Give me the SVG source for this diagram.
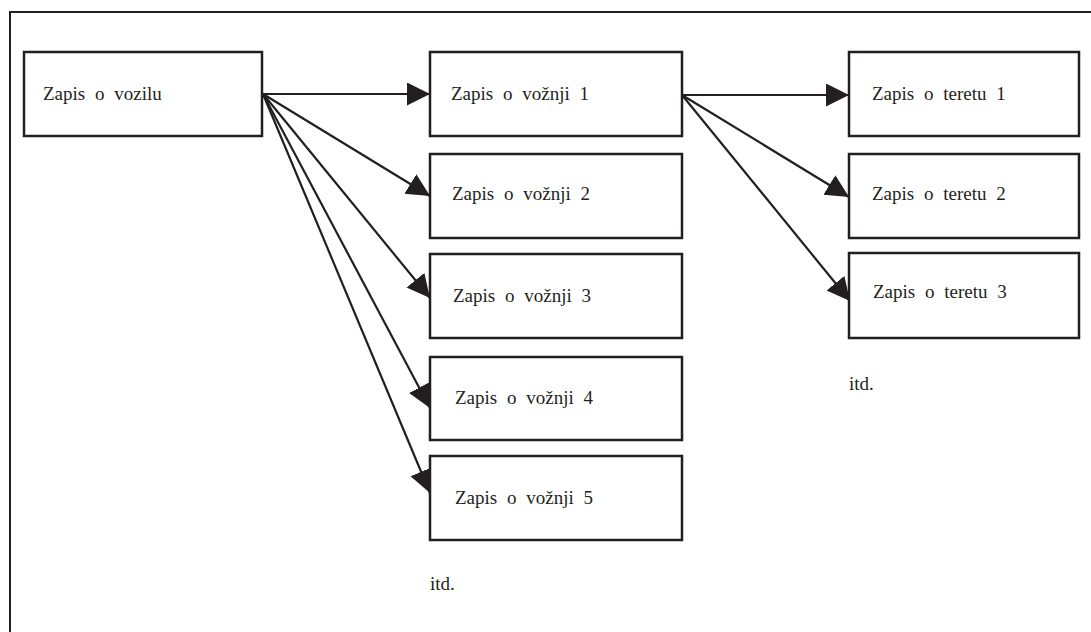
<svg xmlns="http://www.w3.org/2000/svg" width="1091" height="632" viewBox="0 0 1091 632">
<style>
.box{fill:#fff;stroke:#231f20;stroke-width:2.5}
.lbl{font-family:"Liberation Serif",serif;font-size:19px;word-spacing:5px;fill:#231f20}
.conn{stroke:#231f20;stroke-width:2.2;fill:none;marker-end:url(#ah)}
.frame{stroke:#231f20;stroke-width:2;fill:none}
</style>
<defs>
<marker id="ah" markerUnits="userSpaceOnUse" markerWidth="26" markerHeight="26" refX="23" refY="11.5" orient="auto">
<path d="M0,0 L23,11.5 L0,23 z" fill="#231f20"/>
</marker>
</defs>
<rect x="0" y="0" width="1091" height="632" fill="#fff"/>
<path class="frame" d="M10,632 V12 H1091"/>
<g id="connectors">
<line class="conn" x1="263" y1="94" x2="430" y2="94"/>
<line class="conn" x1="263" y1="94" x2="430" y2="196"/>
<line class="conn" x1="263" y1="94" x2="430" y2="298"/>
<line class="conn" x1="263" y1="94" x2="430" y2="408"/>
<line class="conn" x1="263" y1="94" x2="430" y2="493"/>
<line class="conn" x1="682" y1="95" x2="849" y2="95"/>
<line class="conn" x1="682" y1="95" x2="849" y2="197"/>
<line class="conn" x1="682" y1="95" x2="850" y2="301"/>
</g>
<g id="vozilo"><rect class="box" x="24" y="52" width="238" height="84"/><text class="lbl" x="43" y="100">Zapis o vozilu</text></g>
<g id="voznja1"><rect class="box" x="430" y="52" width="252" height="84"/><text class="lbl" x="451" y="100">Zapis o vožnji 1</text></g>
<g id="voznja2"><rect class="box" x="430" y="154" width="252" height="84"/><text class="lbl" x="452" y="200">Zapis o vožnji 2</text></g>
<g id="voznja3"><rect class="box" x="430" y="254" width="252" height="84"/><text class="lbl" x="453" y="302">Zapis o vožnji 3</text></g>
<g id="voznja4"><rect class="box" x="430" y="357" width="252" height="83"/><text class="lbl" x="455" y="404">Zapis o vožnji 4</text></g>
<g id="voznja5"><rect class="box" x="430" y="456" width="252" height="84"/><text class="lbl" x="455" y="504">Zapis o vožnji 5</text></g>
<g id="teret1"><rect class="box" x="849" y="52" width="230" height="84"/><text class="lbl" x="872" y="100">Zapis o teretu 1</text></g>
<g id="teret2"><rect class="box" x="849" y="154" width="230" height="84"/><text class="lbl" x="872" y="200">Zapis o teretu 2</text></g>
<g id="teret3"><rect class="box" x="849" y="253" width="230" height="85"/><text class="lbl" x="873" y="298">Zapis o teretu 3</text></g>
<g id="itd1"><text class="lbl" x="430" y="590">itd.</text></g>
<g id="itd2"><text class="lbl" x="849" y="390">itd.</text></g>
</svg>
